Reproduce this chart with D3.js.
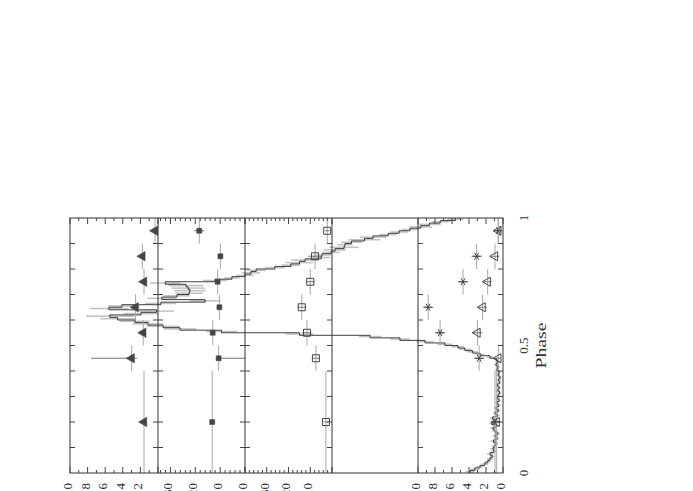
<!DOCTYPE html>
<html>
<head>
<meta charset="utf-8">
<script src="https://cdn.jsdelivr.net/npm/d3@7"></script>
<style>
body { margin: 0; background: #fff; }
svg { display: block; }
text { font-family: "Liberation Serif", "DejaVu Serif", serif; fill: #333; }
</style>
</head>
<body>
<script>
var w = 693;
var h = 491;

// phase bins of the binned points
var binLo = [0.0, 0.4, 0.5, 0.6, 0.7, 0.8, 0.9];
var binHi = [0.4, 0.5, 0.6, 0.7, 0.8, 0.9, 1.0];

// panel 1: filled triangles
var triVal = [1.59, 3.0, 1.68, 2.55, 1.59, 1.78, 0.34];
var triLo = [0.25, 0.6, 0.3, 0.4, 0.3, 0.3, 0.2];
var triHi = [0.25, 4.6, 0.3, 0.4, 0.3, 0.3, 0.2];
// panel 2: filled squares
var sqVal = [13.2, 10.6, 13.0, 10.3, 11.0, 9.9, 18.4];
var sqLo = [0.8, 10.6, 0.8, 0.8, 0.8, 0.8, 2.0];
var sqHi = [0.8, 0.8, 0.8, 0.8, 0.8, 0.8, 2.0];
// panel 3: open squares
var osqVal = [2.8, 7.4, 11.5, 13.9, 10.0, 7.8, 2.2];
var osqErr = [1.0, 1.5, 2.0, 2.0, 2.0, 3.0, 1.0];
// panel 5: asterisks and open triangles
var astVal = [0.94, 2.8, 7.4, 8.8, 4.7, 3.1, 0.55];
var astErr = [0.4, 0.6, 0.6, 0.6, 0.6, 0.6, 0.3];
var otriVal = [0.74, 0.55, 3.0, 2.4, 1.8, 0.94, 0.55];
var otriErr = [0.3, 0.3, 0.6, 0.5, 0.5, 0.5, 0.3];

// light curve, 100 bins of 0.01 in phase
var lcVal = [7.6, 6.5, 5.3, 4.2, 3.5, 3.0, 2.5, 3.0, 2.1, 2.3,
    2.0, 1.6, 2.2, 1.4, 1.8, 1.2, 1.9, 2.3, 1.5, 2.6,
    1.7, 2.4, 1.3, 1.8, 1.1, 1.6, 1.0, 1.4, 0.9, 1.3,
    1.1, 0.8, 1.2, 0.9, 1.3, 0.8, 1.0, 0.7, 1.1, 0.9,
    1.4, 1.2, 1.6, 1.3, 1.5, 3.0, 5.3, 7.0, 8.8, 10.4,
    13.4, 18.0, 23.8, 30.7, 47, 65, 74.6, 78.5, 82, 85,
    89, 90.8, 83.6, 80, 91, 88, 79, 68.8, 78.8, 75.3,
    72.5, 72.3, 72.7, 73.2, 78, 66.5, 62.6, 59.6, 58.2, 57,
    52.7, 49, 47, 45.7, 42, 41.8, 39.7, 38.8, 36.7, 36.5,
    35, 32, 30, 26.5, 24, 21.5, 19, 17, 14.5, 11];
var lcErr = [1.0, 1.0, 0.9, 0.8, 0.8, 0.7, 0.6, 0.7, 0.6, 0.6,
    0.6, 0.5, 0.6, 0.5, 0.6, 0.5, 0.6, 0.6, 0.5, 0.6,
    0.5, 0.6, 0.5, 0.5, 0.5, 0.5, 0.5, 0.5, 0.4, 0.5,
    0.5, 0.4, 0.5, 0.4, 0.5, 0.4, 0.5, 0.4, 0.5, 0.4,
    0.5, 0.5, 0.5, 0.5, 0.5, 0.8, 1.0, 1.2, 1.4, 1.5,
    1.7, 2.0, 2.3, 2.6, 3.2, 3.6, 3.8, 3.8, 3.5, 3.5,
    4.0, 5.5, 4.0, 4.0, 4.5, 3.2, 3.6, 3.6, 3.4, 3.0,
    3.2, 3.6, 3.8, 4.0, 3.5, 2.8, 1.8, 2.0, 2.1, 2.2,
    2.3, 2.2, 3.2, 3.2, 2.0, 2.0, 2.0, 2.5, 3.4, 1.8,
    2.4, 3.7, 3.0, 2.0, 2.0, 1.9, 2.6, 2.6, 2.0, 1.8];

// tick labels per panel
var p1Ticks = [2, 4, 6, 8, 10];
var p2Ticks = [0, 10, 20, 30];
var p3Ticks = [10, 20, 30];
var p5Ticks = [0, 2, 4, 6, 8, 10];
var phaseTicks = [0, 0.5, 1];

var PW = 255, PH = 433;
var svg = d3.select("body")
    .append("svg")
    .attr("width", w)
    .attr("height", h);

// the figure is drawn upright and turned a quarter turn
var g = svg.append("g")
    .attr("transform", "translate(70,473) rotate(-90)");

var xP = d3.scaleLinear().domain([0, 1]).range([0, PW]);
var yLC = d3.scaleLinear().domain([0, 100]).range([PH, 0]);

var panels = [
    {top: 0, bot: 88, domain: [0, 10], major: 2, minor: 1, labels: p1Ticks},
    {top: 88, bot: 175, domain: [0, 35], major: 10, minor: 2, labels: p2Ticks},
    {top: 175, bot: 262, domain: [0, 40], major: 10, minor: 2, labels: p3Ticks},
    {top: 262, bot: 348, domain: null},
    {top: 348, bot: 433, domain: [0, 10], major: 2, minor: 1, labels: p5Ticks}
];
panels.forEach(function (p) {
    if (p.domain) p.y = d3.scaleLinear().domain(p.domain).range([p.bot, p.top]);
});

// light curve: grey error boxes and black histogram
var lc = lcVal.map(function (v, i) {
    return {lo: i / 100, hi: (i + 1) / 100, v: v, e: lcErr[i]};
});
g.selectAll("rect.box")
    .data(lc)
    .enter()
    .append("rect")
    .attr("class", "box")
    .attr("x", function (d) { return xP(d.lo) + 0.5; })
    .attr("width", function (d) { return xP(d.hi) - xP(d.lo) - 1; })
    .attr("y", function (d) { return yLC(d.v + d.e); })
    .attr("height", function (d) { return yLC(d.v - d.e) - yLC(d.v + d.e); })
    .attr("fill", "#c2c2c2");

var steps = [];
lc.forEach(function (d) {
    steps.push([d.lo, d.v]);
    steps.push([d.hi, d.v]);
});
g.append("path")
    .attr("d", d3.line()
        .x(function (d) { return xP(d[0]); })
        .y(function (d) { return yLC(d[1]); })(steps))
    .attr("fill", "none")
    .attr("stroke", "#2a2a2a")
    .attr("stroke-width", 0.9);

// binned points with error bars
function drawPoints(p, vals, lo, hi, marker) {
    var grp = g.append("g");
    vals.forEach(function (v, i) {
        var cx = xP((binLo[i] + binHi[i]) / 2);
        var cy = p.y(v);
        grp.append("line")
            .attr("x1", xP(binLo[i])).attr("x2", xP(binHi[i]))
            .attr("y1", cy).attr("y2", cy)
            .attr("stroke", "#a8a8a8").attr("stroke-width", 1);
        grp.append("line")
            .attr("x1", cx).attr("x2", cx)
            .attr("y1", p.y(Math.max(p.domain[0], v - lo[i])))
            .attr("y2", p.y(v + hi[i]))
            .attr("stroke", "#777").attr("stroke-width", 1);
        marker(grp, cx, cy);
    });
}

function symbolMarker(type, size, filled) {
    return function (grp, cx, cy) {
        grp.append("path")
            .attr("d", d3.symbol().type(type).size(size)())
            .attr("transform", "translate(" + cx + "," + cy + ")")
            .attr("fill", filled ? "#444" : "none")
            .attr("stroke", "#444")
            .attr("stroke-width", filled ? 0.5 : 1);
    };
}

function asterisk(grp, cx, cy) {
    var r = 4;
    [90, 30, 150].forEach(function (a) {
        var dx = r * Math.cos(a * Math.PI / 180), dy = r * Math.sin(a * Math.PI / 180);
        grp.append("line")
            .attr("x1", cx - dx).attr("x2", cx + dx)
            .attr("y1", cy - dy).attr("y2", cy + dy)
            .attr("stroke", "#444").attr("stroke-width", 1);
    });
}

drawPoints(panels[0], triVal, triLo, triHi, symbolMarker(d3.symbolTriangle, 40, true));
drawPoints(panels[1], sqVal, sqLo, sqHi, symbolMarker(d3.symbolSquare, 25, true));
drawPoints(panels[2], osqVal, osqErr, osqErr, symbolMarker(d3.symbolSquare, 49, false));
drawPoints(panels[4], otriVal, otriErr, otriErr, symbolMarker(d3.symbolTriangle, 36, false));
drawPoints(panels[4], astVal, astErr, astErr, asterisk);

// frame, panel dividers and ticks
g.append("rect")
    .attr("x", 0).attr("y", 0)
    .attr("width", PW).attr("height", PH)
    .attr("fill", "none").attr("stroke", "#333").attr("stroke-width", 1);

var phaseMinor = d3.range(1, 10).map(function (k) { return k / 10; });
panels.forEach(function (p, i) {
    if (i > 0) {
        g.append("line")
            .attr("x1", 0).attr("x2", PW)
            .attr("y1", p.top).attr("y2", p.top)
            .attr("stroke", "#333").attr("stroke-width", 1);
    }
    if (!p.domain) return;
    var tg = g.append("g").attr("stroke", "#444").attr("stroke-width", 1);
    phaseMinor.forEach(function (t) {
        tg.append("line").attr("x1", xP(t)).attr("x2", xP(t))
            .attr("y1", p.top).attr("y2", p.top + 5);
        tg.append("line").attr("x1", xP(t)).attr("x2", xP(t))
            .attr("y1", p.bot).attr("y2", p.bot - 5);
    });
    var vt = d3.range(p.domain[0], p.domain[1] + 0.001, p.minor);
    vt.forEach(function (v) {
        var len = (Math.abs(v / p.major - Math.round(v / p.major)) < 1e-6) ? 6 : 3;
        var yy = p.y(v);
        tg.append("line").attr("x1", 0).attr("x2", len).attr("y1", yy).attr("y2", yy);
        tg.append("line").attr("x1", PW).attr("x2", PW - len).attr("y1", yy).attr("y2", yy);
    });
    g.selectAll(null)
        .data(p.labels)
        .enter()
        .append("text")
        .text(function (d) { return d; })
        .attr("x", -10)
        .attr("y", function (d) { return p.y(d); })
        .attr("dy", "0.15em")
        .attr("text-anchor", "end")
        .attr("font-size", 13);
});

// phase axis labels
g.selectAll(null)
    .data(phaseTicks)
    .enter()
    .append("text")
    .text(function (d) { return d; })
    .attr("x", function (d) { return xP(d); })
    .attr("y", PH + 25)
    .attr("text-anchor", "middle")
    .attr("font-size", 13);

g.append("text")
    .text("Phase")
    .attr("x", xP(0.5))
    .attr("y", PH + 43)
    .attr("text-anchor", "middle")
    .attr("font-size", 15)
    .attr("textLength", 46)
    .attr("lengthAdjust", "spacingAndGlyphs");
</script>
</body>
</html>
